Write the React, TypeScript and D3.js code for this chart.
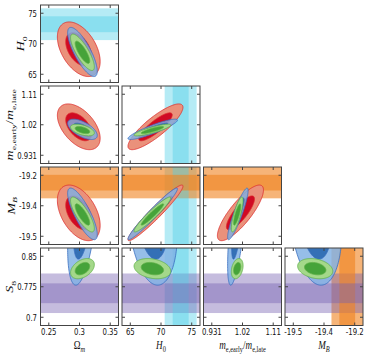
import { useEffect, useRef } from 'react';
import * as d3 from 'd3';

// parameter order: Omega_m, H0, m_e,early/m_e,late, M_B, S8
const tickValues = [
  [0.25, 0.3, 0.35],
  [65, 70, 75],
  [0.931, 1.0205, 1.11],
  [-19.5, -19.35, -19.2],
  [0.7, 0.775, 0.85],
];
const tickLabels = [
  ['0.25', '0.3', '0.35'],
  ['65', '70', '75'],
  ['0.931', '1.02', '1.11'],
  ['-19.5', '-19.4', '-19.2'],
  ['0.7', '0.775', '0.85'],
];

// posterior mean / sigma per parameter (null = not sampled)
const redMean = [0.2988, 69.1, 1.0145, -19.385, null];
const redSigma = [0.014, 1.8, 0.027, 0.055, null];
const blueMean = [0.3048, 68.65, 1.007, -19.39, 0.943];
const blueSigma = [0.0097, 1.62, 0.012, 0.051, 0.066];
const greenMean = [0.3048, 68.6, 1.005, -19.393, 0.8195];
const greenSigma = [0.0078, 1.2, 0.0069, 0.0345, 0.01];

// correlation coefficients
const redCorr = [
  [1, -0.45, -0.5, -0.45, 0],
  [-0.45, 1, 0.85, 0.96, 0],
  [-0.5, 0.85, 1, 0.82, 0],
  [-0.45, 0.96, 0.82, 1, 0],
  [0, 0, 0, 0, 1],
];
const blueCorr = [
  [1, -0.78, -0.6, -0.8, 0.45],
  [-0.78, 1, 0.9, 0.97, -0.2],
  [-0.6, 0.9, 1, 0.9, 0.7],
  [-0.8, 0.97, 0.9, 1, -0.2],
  [0.45, -0.2, 0.7, -0.2, 1],
];
const greenCorr = [
  [1, -0.8, -0.5, -0.8, 0.4],
  [-0.8, 1, 0.85, 0.95, -0.25],
  [-0.5, 0.85, 1, 0.8, 0.3],
  [-0.8, 0.95, 0.8, 1, -0.25],
  [0.4, -0.25, 0.3, -0.25, 1],
];

// external Gaussian priors shown as bands (H0, M_B, S8)
const bandMean = [null, 73.2, null, -19.2365, 0.759];
const bandSigma = [null, 1.3, null, 0.0385, 0.0243];
const bandColor = [null, '#4fd0e6', null, '#f0821e', '#7560b0'];
const bandOpacity = [0, 0.42, 0, 0.6, 0.42];

const datasets = [
  { mean: redMean, sigma: redSigma, corr: redCorr, light: '#ea917b', dark: '#d00a24', stroke: '#dc2c2c', opacity: 1 },
  { mean: blueMean, sigma: blueSigma, corr: blueCorr, light: '#7fb0e4', dark: '#1f5fab', stroke: '#3a6fc0', opacity: 0.82 },
  { mean: greenMean, sigma: greenSigma, corr: greenCorr, light: '#a4d88a', dark: '#46a33a', stroke: '#5fb048', opacity: 1 },
];

// axis labels as [text, italic, subscript]
const axisLabels: [string, boolean, boolean][][] = [
  [['Ω', false, false], ['m', true, true]],
  [['H', true, false], ['0', false, true]],
  [['m', true, false], ['e,early', false, true], ['/', false, false], ['m', true, false], ['e,late', false, true]],
  [['M', true, false], ['B', true, true]],
  [['S', true, false], ['8', false, true]],
];

const colLeft = [40.5, 122, 203.5, 285];
const rowTop = [5, 86, 167, 248];
const cellW = 78;
const cellH = 77.5;
const PAD = 0.27;
const SX = 0.73;
const K2 = [Math.sqrt(6.18), Math.sqrt(2.3)];

function scaleFor(p: number, range: [number, number]) {
  const t = tickValues[p];
  const step = (t[2] - t[0]) / 2;
  return d3.scaleLinear().domain([t[0] - PAD * step, t[2] + PAD * step]).range(range);
}

function appendMath(sel: any, parts: [string, boolean, boolean][]) {
  let off = 0;
  parts.forEach(([t, it, sub]) => {
    const target = sub ? 3.2 : 0;
    sel.append('tspan')
      .attr('dy', target - off)
      .attr('font-style', it ? 'italic' : 'normal')
      .attr('font-size', sub ? '70%' : '100%')
      .text(t);
    off = target;
  });
}

export default function App() {
  const ref = useRef<SVGSVGElement>(null);

  useEffect(() => {
    const svg = d3.select(ref.current);
    svg.selectAll('*').remove();
    const defs = svg.append('defs');
    const line = d3.line().curve(d3.curveLinearClosed);

    for (let r = 0; r < 4; r++) {
      for (let c = 0; c <= r; c++) {
        const px = c;
        const py = r + 1;
        const x0 = colLeft[c];
        const y0 = rowTop[r];
        const x = scaleFor(px, [x0, x0 + cellW]);
        const y = scaleFor(py, [y0 + cellH, y0]);
        const id = `clip-${r}-${c}`;
        defs.append('clipPath').attr('id', id)
          .append('rect').attr('x', x0).attr('y', y0).attr('width', cellW).attr('height', cellH);
        const g = svg.append('g').attr('clip-path', `url(#${id})`);

        // bands: vertical for x parameter, horizontal for y parameter
        [2, 1].forEach(n => {
          if (bandMean[px] != null) {
            const m = bandMean[px] as number, s = bandSigma[px] as number;
            g.append('rect')
              .attr('x', x(m - n * s)).attr('width', x(m + n * s) - x(m - n * s))
              .attr('y', y0).attr('height', cellH)
              .attr('fill', bandColor[px] as string).attr('opacity', bandOpacity[px]);
          }
          if (bandMean[py] != null) {
            const m = bandMean[py] as number, s = bandSigma[py] as number;
            g.append('rect')
              .attr('y', y(m + n * s)).attr('height', y(m - n * s) - y(m + n * s))
              .attr('x', x0).attr('width', cellW)
              .attr('fill', bandColor[py] as string).attr('opacity', bandOpacity[py]);
          }
        });

        // 2D contours (95% and 68%)
        datasets.forEach(ds => {
          if (ds.mean[px] == null || ds.mean[py] == null) return;
          const mx = ds.mean[px] as number, my = ds.mean[py] as number;
          const sx = ds.sigma[px] as number, sy = ds.sigma[py] as number;
          const rho = ds.corr[px][py];
          K2.forEach((k, i) => {
            const pts = d3.range(0, 2 * Math.PI, Math.PI / 90).map(t => [
              x(mx + k * sx * Math.cos(t)),
              y(my + k * sy * (rho * Math.cos(t) + Math.sqrt(1 - rho * rho) * Math.sin(t))),
            ] as [number, number]);
            g.append('path')
              .attr('d', line(pts))
              .attr('fill', i === 0 ? ds.light : ds.dark)
              .attr('fill-opacity', ds.opacity)
              .attr('stroke', ds.stroke)
              .attr('stroke-width', 0.8);
          });
        });

        // frame and inward ticks
        const fg = svg.append('g').attr('stroke', '#444').attr('fill', 'none');
        fg.append('rect').attr('x', x0).attr('y', y0).attr('width', cellW).attr('height', cellH).attr('stroke-width', 1);
        tickValues[px].forEach(t => {
          fg.append('line').attr('x1', x(t)).attr('x2', x(t)).attr('y1', y0 + cellH).attr('y2', y0 + cellH - 3);
          fg.append('line').attr('x1', x(t)).attr('x2', x(t)).attr('y1', y0).attr('y2', y0 + 3);
        });
        tickValues[py].forEach(t => {
          fg.append('line').attr('y1', y(t)).attr('y2', y(t)).attr('x1', x0).attr('x2', x0 + 3);
          fg.append('line').attr('y1', y(t)).attr('y2', y(t)).attr('x1', x0 + cellW).attr('x2', x0 + cellW - 3);
        });

        // x tick labels + x axis label (bottom row)
        if (r === 3) {
          tickValues[px].forEach((t, i) => {
            svg.append('text')
              .attr('transform', `translate(${x(t)},${y0 + cellH + 9}) scale(${SX},1)`)
              .attr('text-anchor', 'middle')
              .attr('font-family', 'DejaVu Sans, sans-serif')
              .attr('font-size', 9.5)
              .attr('fill', '#111')
              .text(tickLabels[px][i]);
          });
          const lab = svg.append('text')
            .attr('transform', `translate(${x0 + cellW / 2},${y0 + cellH + 23}) scale(${SX},1)`)
            .attr('text-anchor', 'middle')
            .attr('font-family', 'Liberation Serif, DejaVu Serif, serif')
            .attr('font-size', 12.5)
            .attr('fill', '#111');
          appendMath(lab, axisLabels[px]);
        }

        // y tick labels + y axis label (left column)
        if (c === 0) {
          const tg = svg.append('g');
          tickValues[py].forEach((t, i) => {
            tg.append('text')
              .attr('transform', `translate(${x0 - 3.5},${y(t)}) scale(${SX},1)`)
              .attr('text-anchor', 'end')
              .attr('dy', '0.35em')
              .attr('font-family', 'DejaVu Sans, sans-serif')
              .attr('font-size', 9.5)
              .attr('fill', '#111')
              .text(tickLabels[py][i]);
          });
          const bb = (tg.node() as SVGGElement).getBBox();
          const lab = svg.append('text')
            .attr('transform', `translate(${bb.x - 4},${y0 + cellH / 2}) scale(${SX},1) rotate(-90)`)
            .attr('text-anchor', 'middle')
            .attr('font-family', 'Liberation Serif, DejaVu Serif, serif')
            .attr('font-size', 14)
            .attr('fill', '#111');
          appendMath(lab, axisLabels[py]);
        }
      }
    }
  }, []);

  return (
    <svg ref={ref} width={369} height={354} style={{ position: 'absolute', left: 0, top: 0, background: '#fff' }} />
  );
}
